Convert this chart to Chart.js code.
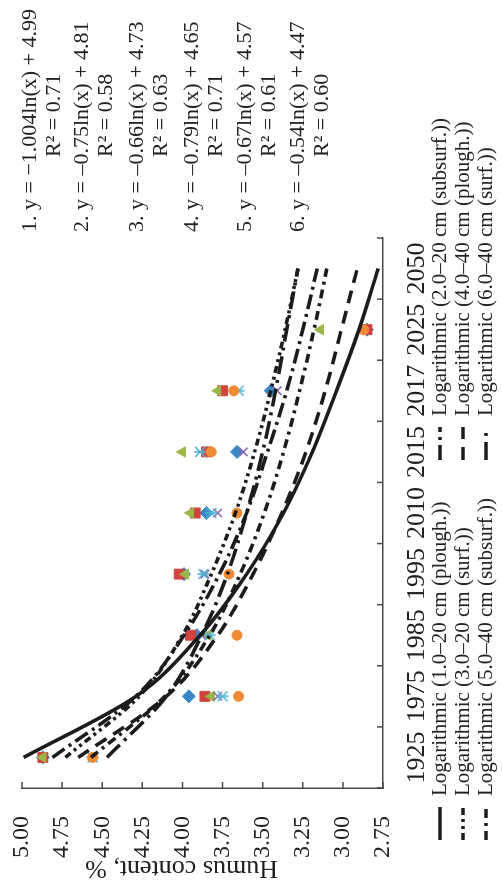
<!DOCTYPE html>
<html>
<head>
<meta charset="utf-8">
<script src="https://cdn.jsdelivr.net/npm/chart.js@4.4.1/dist/chart.umd.min.js"></script>
<style>
  html, body { margin: 0; padding: 0; background: #fff; overflow: hidden; }
  /* chart is drawn landscape and turned a quarter left, like the printed figure */
  #wrap {
    position: absolute; left: 0; top: 0;
    width: 880px; height: 502px;
    transform-origin: 0 0;
    transform: translateY(880px) rotate(-90deg);
  }
</style>
</head>
<body>
<div id="wrap"><canvas id="myChart" width="880" height="502"></canvas></div>
<script>
const years = ['1925', '1975', '1985', '1995', '2010', '2015', '2017', '2025', '2050'];

// measured humus content, %
const plough020  = [4.87, 3.96, 3.91, 3.99, 3.85, 3.66, 3.45, 2.85, null];
const subsurf020 = [4.87, 3.86, 3.95, 4.02, 3.92, 3.85, 3.75, 2.85, null];
const surf020    = [4.87, 3.82, 3.84, 3.98, 3.95, 4.00, 3.78, 3.14, null];
const plough2040 = [4.56, 3.78, 3.88, 3.86, 3.78, 3.62, 3.41, null, null];
const subsurf2040 = [4.56, 3.75, 3.83, 3.87, 3.82, 3.89, 3.65, null, null];
const surf2040   = [4.56, 3.65, 3.66, 3.71, 3.66, 3.82, 3.68, 2.87, null];

// logarithmic trendlines as drawn in the figure
const trend1 = [4.99, 4.29, 3.89, 3.60, 3.37, 3.19, 3.04, 2.90, 2.78];
const trend2 = [4.81, 4.29, 3.99, 3.77, 3.60, 3.47, 3.35, 3.25, 3.16];
const trend3 = [4.73, 4.27, 4.00, 3.82, 3.67, 3.55, 3.45, 3.36, 3.28];
const trend4 = [4.65, 4.10, 3.78, 3.56, 3.38, 3.23, 3.11, 3.01, 2.91];
const trend5 = [4.57, 4.11, 3.83, 3.64, 3.49, 3.37, 3.27, 3.18, 3.10];
const trend6 = [4.47, 4.10, 3.88, 3.72, 3.60, 3.50, 3.42, 3.35, 3.28];

const trendLabels = [
  'Logarithmic (1.0–20 cm (plough.))',
  'Logarithmic (2.0–20 cm (subsurf.))',
  'Logarithmic (3.0–20 cm (surf.))',
  'Logarithmic (4.0–40 cm (plough.))',
  'Logarithmic (5.0–40 cm (subsurf.))',
  'Logarithmic (6.0–40 cm (surf.))'
];
const equations = [
  ['1. y = −1.004ln(x) + 4.99', 'R² = 0.71'],
  ['2. y = –0.75ln(x) + 4.81', 'R² = 0.58'],
  ['3. y = –0.66ln(x) + 4.73', 'R² = 0.63'],
  ['4. y = –0.79ln(x) + 4.65', 'R² = 0.71'],
  ['5. y = –0.67ln(x) + 4.57', 'R² = 0.61'],
  ['6. y = –0.54ln(x) + 4.47', 'R² = 0.60']
];

const SERIF = '"Liberation Serif", "Times New Roman", serif';
const AXIS = '#4a4a4a';
const INK = '#222';
const LINE = '#1c1c1c';

Chart.defaults.font.family = SERIF;
Chart.defaults.color = INK;

// six-armed asterisk marker (Excel "star")
function asterisk(color) {
  const c = document.createElement('canvas');
  c.width = 14; c.height = 14;
  const g = c.getContext('2d');
  g.strokeStyle = color; g.lineWidth = 1.6;
  g.beginPath();
  g.moveTo(2, 2); g.lineTo(12, 12);
  g.moveTo(12, 2); g.lineTo(2, 12);
  g.moveTo(7, 1); g.lineTo(7, 13);
  g.stroke();
  return c;
}

function points(label, data, color, style, radius, order) {
  const stroke = style === 'crossRot' || style instanceof HTMLCanvasElement;
  return {
    label, data, showLine: false, order,
    pointStyle: style, pointRadius: radius, pointHoverRadius: radius,
    pointBackgroundColor: color, pointBorderColor: color,
    pointBorderWidth: stroke ? 1.6 : 1,
    borderColor: color, backgroundColor: color
  };
}

function trend(label, data, dash, order) {
  return {
    label, data, order, isTrend: true,
    borderColor: LINE, borderWidth: 3.6, borderDash: dash, borderCapStyle: 'butt',
    pointRadius: 0, pointHoverRadius: 0, fill: false,
    cubicInterpolationMode: 'monotone'
  };
}

const decor = {
  id: 'decor',
  afterDraw(chart) {
    const { ctx, chartArea: a, scales: { x, y } } = chart;
    ctx.save();

    // tick marks pointing into the plot
    ctx.strokeStyle = AXIS;
    ctx.lineWidth = 1.5;
    ctx.setLineDash([]);
    ctx.beginPath();
    y.ticks.forEach(t => {
      const p = y.getPixelForValue(t.value);
      ctx.moveTo(a.left, p); ctx.lineTo(a.left + 6, p);
    });
    for (let i = 0; i <= years.length; i++) {
      const p = x.getPixelForValue(i - 0.5);
      ctx.moveTo(p, a.bottom); ctx.lineTo(p, a.bottom - 6);
    }
    ctx.stroke();

    // value axis title
    ctx.fillStyle = INK;
    ctx.font = '26px ' + SERIF;
    ctx.textAlign = 'center';
    ctx.textBaseline = 'middle';
    ctx.save();
    ctx.translate(12, (a.top + a.bottom) / 2 - 21);
    ctx.rotate(-Math.PI / 2);
    ctx.fillText('Humus content, %', 0, 0);
    ctx.restore();

    // legend: two columns, three rows
    const trends = chart.data.datasets.filter(d => d.isTrend);
    ctx.font = '21px ' + SERIF;
    ctx.textAlign = 'left';
    const colX = [40, 420];
    const rowY = [440, 463, 486];
    trends.forEach((d, i) => {
      const lx = colX[i % 2], ly = rowY[Math.floor(i / 2)];
      ctx.strokeStyle = d.borderColor;
      ctx.lineWidth = d.borderWidth;
      ctx.lineCap = 'butt';
      ctx.setLineDash(d.borderDash);
      ctx.beginPath();
      ctx.moveTo(lx, ly); ctx.lineTo(lx + 33, ly);
      ctx.stroke();
      ctx.setLineDash([]);
      ctx.fillText(d.label, lx + 44, ly);
    });

    // trendline equations
    ctx.font = '22px ' + SERIF;
    const eqY = [30, 82, 137, 192, 245, 298];
    equations.forEach((e, i) => {
      ctx.fillText(e[0], 648, eqY[i]);
      ctx.fillText(e[1], 723, eqY[i] + 24);
    });

    ctx.restore();
  }
};

const ctx = document.getElementById('myChart');
new Chart(ctx, {
  type: 'line',
  data: {
    labels: years,
    datasets: [
      points('0–20 cm (plough.)', plough020, '#3A87C6', 'rectRot', 6.5, 16),
      points('0–20 cm (subsurf.)', subsurf020, '#D0433F', 'rect', 7, 15),
      points('0–20 cm (surf.)', surf020, '#9DB648', 'triangle', 6, 14),
      points('20–40 cm (plough.)', plough2040, '#8A6BB1', 'crossRot', 6, 13),
      points('20–40 cm (subsurf.)', subsurf2040, '#4DB3D3', asterisk('#4DB3D3'), 7, 12),
      points('20–40 cm (surf.)', surf2040, '#F08A35', 'circle', 5, 11),
      trend(trendLabels[0], trend1, [], 6),
      trend(trendLabels[1], trend2, [15, 5, 3, 5], 5),
      trend(trendLabels[2], trend3, [7, 4, 3, 4, 3, 4], 4),
      trend(trendLabels[3], trend4, [13, 8], 3),
      trend(trendLabels[4], trend5, [9, 5, 3, 5], 2),
      trend(trendLabels[5], trend6, [18, 6, 3, 6], 1)
    ]
  },
  options: {
    responsive: false,
    animation: false,
    events: [],
    layout: { padding: { left: 0, right: 238, top: 22, bottom: 0 } },
    plugins: {
      legend: { display: false },
      tooltip: { enabled: false }
    },
    scales: {
      x: {
        type: 'category',
        offset: true,
        grid: { display: false },
        border: { display: true, color: AXIS, width: 1.5 },
        ticks: { font: { size: 26 }, color: INK, padding: 11, maxRotation: 0, autoSkip: false },
        afterFit: s => { s.height = 119; s.paddingLeft = 0; s.paddingRight = 0; }
      },
      y: {
        min: 2.75,
        max: 5.0,
        grid: { display: false },
        border: { display: true, color: AXIS, width: 1.5 },
        ticks: {
          stepSize: 0.25,
          font: { size: 24 },
          color: INK,
          padding: 20,
          callback: v => Number(v).toFixed(2)
        },
        afterFit: s => { s.width = 92; s.paddingTop = 0; s.paddingBottom = 0; }
      }
    }
  },
  plugins: [decor]
});
</script>
</body>
</html>
